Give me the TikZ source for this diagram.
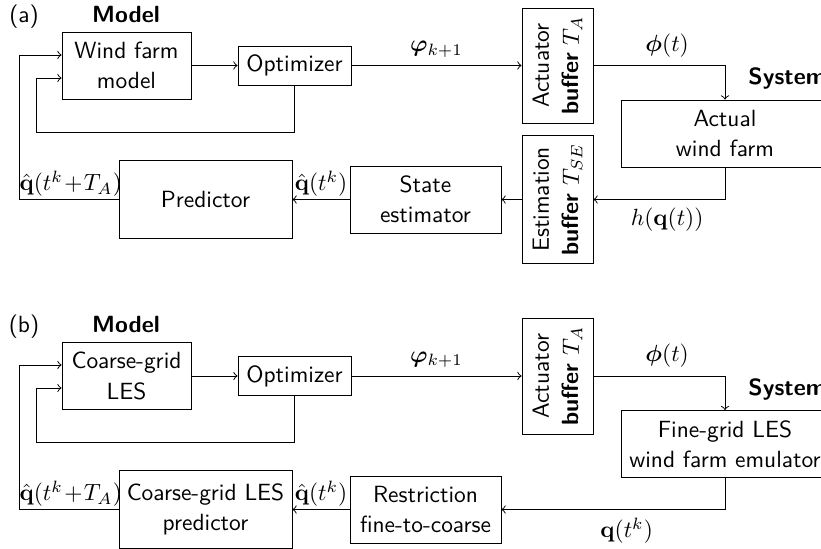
\documentclass[tikz,border=0pt]{standalone}
\usepackage{amsmath}
\usepackage{amssymb}
\usepackage{bm}

\begin{document}
\begin{tikzpicture}[x=0.015cm, y=-0.015cm,
		box/.style={draw, align=center, inner sep=0pt, font=\sffamily\linespread{1.07}\selectfont},
		buf/.style={box, rotate=90, minimum height=1.065cm},
		lbl/.style={inner sep=0pt, font=\sffamily\bfseries},
		tag/.style={inner sep=0pt, font=\sffamily, anchor=base},
		near/.style={inner sep=1pt}]
			\clip (0,0) rectangle (821,549);
			\node[tag] (taga) at (24,23) {(a)};
			\node[lbl, anchor=base] (modela) at (126,23) {Model};
			\node[box, minimum width=1.935cm, minimum height=1.005cm] (wfm) at (126.5,65.5) {Wind farm\\model};
			\node[box, minimum width=1.695cm, minimum height=0.585cm] (opta) at (294.5,65.5) {Optimizer};
			\node[buf, minimum width=1.725cm] (acta) at (557.5,65.5) {Actuator\\\textbf{buffer} $T_A$};
			\node[lbl, anchor=base west] (sysa) at (748,85) {System};
			\node[box, minimum width=3.12cm, minimum height=1.005cm] (farm) at (725,133.5) {Actual\\wind farm};
			\node[buf, minimum width=1.92cm] (esta) at (557.5,199.5) {Estimation\\\textbf{buffer} $T_{SE}$};
			\node[box, minimum width=2.265cm, minimum height=1.005cm] (se) at (425.5,199.5) {State\\estimator};
			\node[box, minimum width=2.595cm, minimum height=1.17cm] (pred) at (205.5,199.5) {Predictor};
			\coordinate (ina) at (19,55);
			\coordinate (fba) at (36,132);
			\coordinate (fbina) at (36,78);
			\draw[->] (wfm.east) -- (opta.west);
			\draw[->] (opta.east) -- node[above] {$\bm{\varphi}_{k+1}$} (acta.north);
			\draw[->] (acta.south) -| node[pos=0.28, above] {$\bm{\phi}(t)$} (farm.north);
			\draw[->] (farm.south) |- node[pos=0.72, below] {$h(\mathbf{q}(t))$} (esta.south);
			\draw[->] (esta.north) -- (se.east);
			\draw[->] (se.west) -- node[above, near] {$\hat{\mathbf{q}}(t^k)$} (pred.east);
			\draw[->] (pred.west) -| node[pos=0.24, above, near] {$\hat{\mathbf{q}}(t^k\!+\!T_A)$} (ina) -- (ina -| wfm.west);
			\draw[->] (opta.south) |- (fba) -- (fbina) -- (fbina -| wfm.west);
			\node[tag] (tagb) at (24,333) {(b)};
			\node[lbl, anchor=base] (modelb) at (126,333) {Model};
			\node[box, minimum width=1.935cm, minimum height=1.005cm] (les) at (126.5,376) {Coarse-grid\\LES};
			\node[box, minimum width=1.695cm, minimum height=0.585cm] (optb) at (294.5,376) {Optimizer};
			\node[buf, minimum width=1.74cm] (actb) at (557.5,376) {Actuator\\\textbf{buffer} $T_A$};
			\node[lbl, anchor=base west] (sysb) at (748,395) {System};
			\node[box, minimum width=3.12cm, minimum height=1.005cm] (fine) at (725,444) {Fine-grid LES\\wind farm emulator};
			\node[box, minimum width=2.265cm, minimum height=1.005cm] (restr) at (425.5,509.5) {Restriction\\fine-to-coarse};
			\node[box, minimum width=2.595cm, minimum height=1.17cm] (cpred) at (205.5,509.5) {Coarse-grid LES\\predictor};
			\coordinate (inb) at (19,365);
			\coordinate (fbb) at (36,442);
			\coordinate (fbinb) at (36,388);
			\draw[->] (les.east) -- (optb.west);
			\draw[->] (optb.east) -- node[above] {$\bm{\varphi}_{k+1}$} (actb.north);
			\draw[->] (actb.south) -| node[pos=0.28, above] {$\bm{\phi}(t)$} (fine.north);
			\draw[->] (fine.south) |- node[pos=0.72, below] {$\mathbf{q}(t^k)$} (restr.east);
			\draw[->] (restr.west) -- node[above, near] {$\hat{\mathbf{q}}(t^k)$} (cpred.east);
			\draw[->] (cpred.west) -| node[pos=0.24, above, near] {$\hat{\mathbf{q}}(t^k\!+\!T_A)$} (inb) -- (inb -| les.west);
			\draw[->] (optb.south) |- (fbb) -- (fbinb) -- (fbinb -| les.west);
		\end{tikzpicture}
\end{document}
